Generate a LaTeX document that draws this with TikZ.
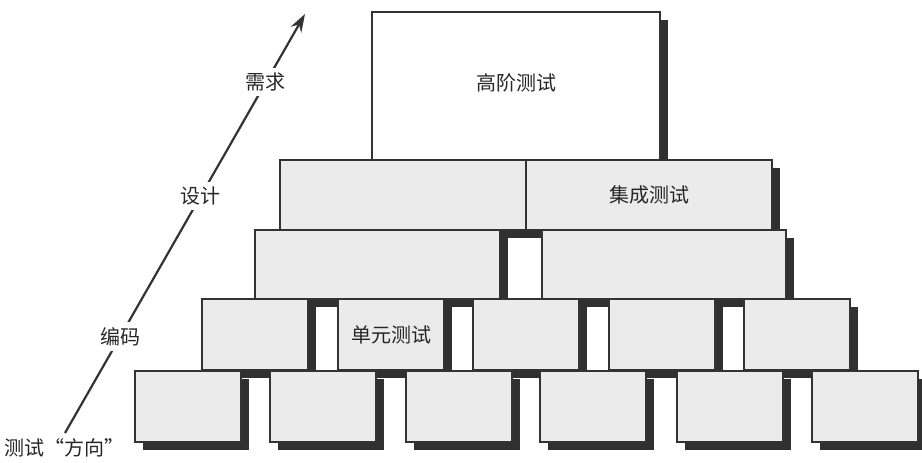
\documentclass[tikz,border=0pt]{standalone}
\usepackage{fontspec}
\newfontfamily\cjk{Noto Sans CJK SC}
\usetikzlibrary{shadows,arrows.meta}
\definecolor{edge}{HTML}{333333}
\definecolor{shade}{HTML}{303030}
\definecolor{brickfill}{HTML}{EBEBEB}
\tikzset{
  brick/.style={draw=edge, line width=1.8pt, fill=brickfill, anchor=north west,
    inner sep=0pt, outer sep=0pt,
    drop shadow={shadow xshift=7.5pt, shadow yshift=-7.5pt, fill=shade, opacity=1}},
  topbrick/.style={brick, fill=white},
  lbl/.style={font=\cjk\fontsize{20}{24}\selectfont, text=black!85},
  axislbl/.style={lbl, fill=white, inner sep=5pt}
}
\begin{document}
\begin{tikzpicture}[x=1pt,y=-1pt]
\useasboundingbox[fill=white] (0,0) rectangle (922,463);
% top
\node[topbrick, minimum width=288pt, minimum height=148pt] (top) at (372,12) {};
\node[lbl] at ([yshift=3pt]top.center) {高阶测试};
% row 2
\node[brick, minimum width=246pt, minimum height=70pt] (r2a) at (280,160) {};
\node[brick, minimum width=246pt, minimum height=70pt] (r2b) at (526,160) {};
\node[lbl] at (r2b.center) {集成测试};
% row 3
\node[brick, minimum width=245pt, minimum height=69pt] (r3a) at (255,230) {};
\node[brick, minimum width=244pt, minimum height=69pt] (r3b) at (542,230) {};
% row 4
\foreach \x/\n in {202/a,338/b,473/c,609/d,744/e}
  \node[brick, minimum width=106pt, minimum height=71pt] (r4\n) at (\x,299) {};
\node[lbl] at (r4b.center) {单元测试};
% row 5
\foreach \x/\n in {135/a,270/b,406/c,540/d,677/e,812/f}
  \node[brick, minimum width=106pt, minimum height=71pt] (r5\n) at (\x,371) {};
% axis
\coordinate (s) at (65,433);
\coordinate (e) at (305,14);
\draw[edge, line width=2.2pt, -{Stealth[length=18pt,width=12pt]}] (s) -- (e)
  node[axislbl, pos=0.23] (code) {编码}
  node[axislbl, pos=0.565] (design) {设计}
  node[axislbl, pos=0.837] (req) {需求};
\node[lbl] (dir) at (65,448) {测试“方向”};
\end{tikzpicture}
\end{document}
